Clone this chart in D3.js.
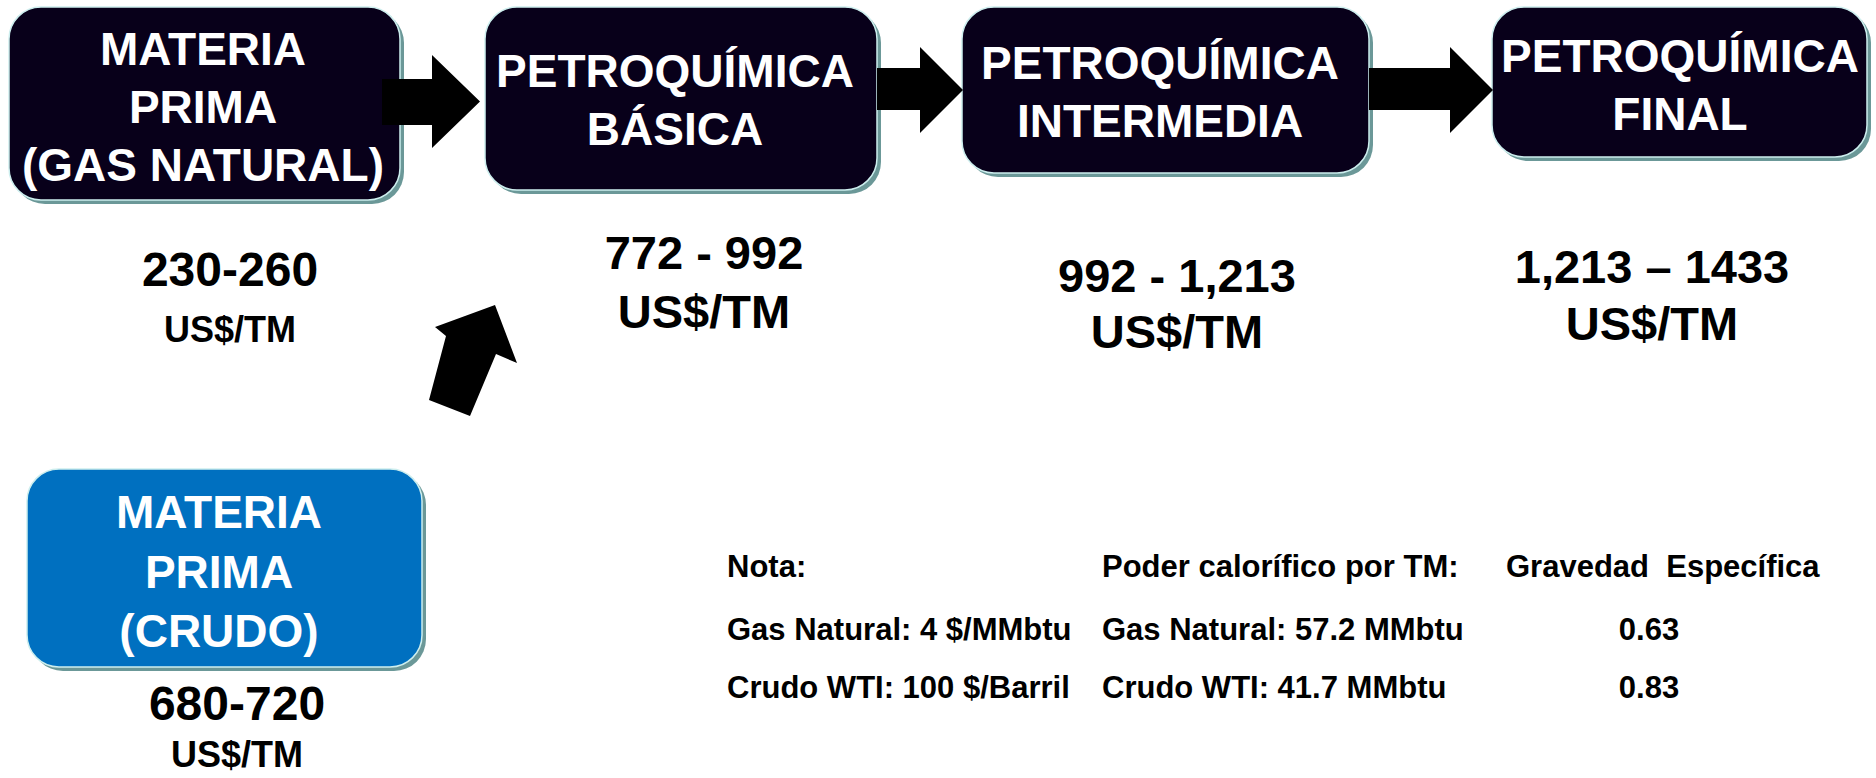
<!DOCTYPE html>
<html>
<head>
<meta charset="utf-8">
<script src="https://cdn.jsdelivr.net/npm/d3@7"></script>
<style>
	html, body { margin: 0; padding: 0; background: #fff; }
	svg { display: block; font-family: "Liberation Sans", Arial, sans-serif; font-weight: bold; }
</style>
</head>
<body>
<div id="my_data"></div>
<script>
// etapas de la cadena
var stageLines = [
	["MATERIA", "PRIMA", "(GAS NATURAL)"],
	["PETROQUÍMICA", "BÁSICA"],
	["PETROQUÍMICA", "INTERMEDIA"],
	["PETROQUÍMICA", "FINAL"]
];
var stageRange = ["230-260", "772 - 992", "992 - 1,213", "1,213 – 1433"];
var stageUnit = ["US$/TM", "US$/TM", "US$/TM", "US$/TM"];

var crudeLines = ["MATERIA", "PRIMA", "(CRUDO)"];
var crudeRange = "680-720";
var crudeUnit = "US$/TM";

// nota al pie
var noteCol1 = ["Nota:", "Gas Natural: 4 $/MMbtu", "Crudo WTI: 100 $/Barril"];
var noteCol2 = ["Poder calorífico por TM:", "Gas Natural: 57.2 MMbtu", "Crudo WTI: 41.7 MMbtu"];
var noteCol3 = ["Gravedad  Específica", "0.63", "0.83"];

document.addEventListener("DOMContentLoaded", function(event) {

	var width = 1876;
	var height = 778;

	var svg = d3.select("#my_data").append("svg")
	.attr("width", width)
	.attr("height", height)
	.attr("viewBox", [0, 0, width, height]);

	// layout of the boxes (x, y, w, h, first baseline)
	var boxLayout = [
		{x: 9, y: 7, w: 391, h: 193, base: 65, step: 58, cx: 203},
		{x: 485, y: 7, w: 392, h: 183, base: 87, step: 58, cx: 675},
		{x: 962, y: 7, w: 407, h: 166, base: 79, step: 58, cx: 1160},
		{x: 1492, y: 7, w: 375, h: 150, base: 72, step: 58, cx: 1680}
	];
	var priceLayout = [
		{cx: 230, b1: 286, b2: 342, f1: 48, f2: 36},
		{cx: 704, b1: 269, b2: 328, f1: 47, f2: 47},
		{cx: 1177, b1: 292, b2: 348, f1: 47, f2: 47},
		{cx: 1652, b1: 283, b2: 340, f1: 47, f2: 47}
	];

	function drawBox(g, b, fill) {
		g.append("rect")
		.attr("x", b.x + 4).attr("y", b.y + 4)
		.attr("width", b.w).attr("height", b.h)
		.attr("rx", 32)
		.attr("fill", "#6b9898");
		g.append("rect")
		.attr("x", b.x).attr("y", b.y)
		.attr("width", b.w).attr("height", b.h)
		.attr("rx", 32)
		.attr("fill", fill)
		.attr("stroke", "#cdeeee")
		.attr("stroke-width", 1.5);
	}

	var stages = svg.append("g")
	.attr("class", "stages")
	.selectAll("g")
	.data(stageLines)
	.enter().append("g");

	stages.each(function(lines, i) {
		var g = d3.select(this);
		var b = boxLayout[i];
		drawBox(g, b, "#08001a");
		g.selectAll("text")
		.data(lines)
		.enter().append("text")
		.attr("x", b.cx)
		.attr("y", (d, j) => b.base + j * b.step)
		.attr("text-anchor", "middle")
		.attr("font-size", 46)
		.attr("fill", "#fff")
		.text(d => d);
	});

	// precios bajo cada etapa
	var prices = svg.append("g").attr("class", "prices");
	stageRange.forEach(function(r, i) {
		var p = priceLayout[i];
		prices.append("text")
		.attr("x", p.cx).attr("y", p.b1)
		.attr("text-anchor", "middle")
		.attr("font-size", p.f1)
		.text(r);
		prices.append("text")
		.attr("x", p.cx).attr("y", p.b2)
		.attr("text-anchor", "middle")
		.attr("font-size", p.f2)
		.text(stageUnit[i]);
	});

	// flechas horizontales
	var arrows = [
		{x0: 382, x1: 432, x2: 480, sy0: 79, sy1: 125, hy0: 55, hy1: 148},
		{x0: 877, x1: 920, x2: 963, sy0: 68, sy1: 110, hy0: 47, hy1: 133},
		{x0: 1369, x1: 1450, x2: 1493, sy0: 68, sy1: 110, hy0: 47, hy1: 133}
	];
	svg.append("g")
	.attr("class", "arrows")
	.selectAll("path")
	.data(arrows)
	.enter().append("path")
	.attr("d", function(a) {
		var my = (a.hy0 + a.hy1) / 2;
		return "M" + a.x0 + "," + a.sy0 + "L" + a.x1 + "," + a.sy0 + "L" + a.x1 + "," + a.hy0 +
			"L" + a.x2 + "," + my + "L" + a.x1 + "," + a.hy1 + "L" + a.x1 + "," + a.sy1 +
			"L" + a.x0 + "," + a.sy1 + "Z";
	})
	.attr("fill", "#000");

	// flecha diagonal (crudo -> básica)
	svg.append("path")
	.attr("d", "M495,305L517,363L496,354L470,416L429,400L446,336L435,327Z")
	.attr("fill", "#000");

	// materia prima crudo
	var crude = svg.append("g").attr("class", "crude");
	drawBox(crude, {x: 27, y: 469, w: 395, h: 198}, "#0070c0");
	crude.selectAll("text.lbl")
	.data(crudeLines)
	.enter().append("text")
	.attr("class", "lbl")
	.attr("x", 219)
	.attr("y", (d, j) => 528 + j * 59.5)
	.attr("text-anchor", "middle")
	.attr("font-size", 46)
	.attr("fill", "#fff")
	.text(d => d);
	crude.append("text")
	.attr("x", 237).attr("y", 720)
	.attr("text-anchor", "middle")
	.attr("font-size", 48)
	.text(crudeRange);
	crude.append("text")
	.attr("x", 237).attr("y", 767)
	.attr("text-anchor", "middle")
	.attr("font-size", 36)
	.text(crudeUnit);

	// nota
	var notes = svg.append("g").attr("class", "notes").attr("font-size", 31);
	var rowY = [577, 640, 698];
	notes.selectAll("text.c1").data(noteCol1).enter().append("text")
	.attr("class", "c1").attr("x", 727).attr("y", (d, i) => rowY[i]).text(d => d);
	notes.selectAll("text.c2").data(noteCol2).enter().append("text")
	.attr("class", "c2").attr("x", 1102).attr("y", (d, i) => rowY[i]).text(d => d);
	notes.selectAll("text.c3").data(noteCol3).enter().append("text")
	.attr("class", "c3")
	.attr("x", (d, i) => i == 0 ? 1506 : 1649)
	.attr("y", (d, i) => rowY[i])
	.attr("text-anchor", (d, i) => i == 0 ? "start" : "middle")
	.attr("xml:space", "preserve")
	.style("white-space", "pre")
	.text(d => d);

});
</script>
</body>
</html>
